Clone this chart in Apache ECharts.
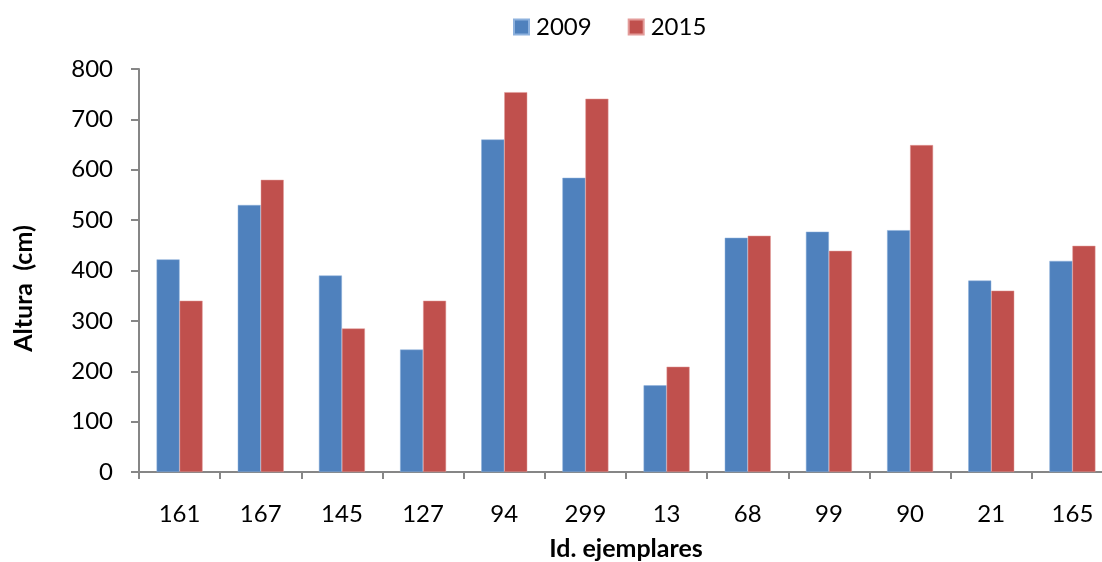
<!DOCTYPE html>
<html>
<head>
<meta charset="utf-8">
<script src="https://cdn.jsdelivr.net/npm/echarts@6/dist/echarts.min.js"></script>
<style>
html,body{margin:0;padding:0;background:#fff;}
#chart{width:1102px;height:562px;}
</style>
</head>
<body>
<div id="chart"></div>
<script>
var categories = ['161','167','145','127','94','299','13','68','99','90','21','165'];
var values2009 = [422, 530, 390, 243, 660, 584, 172, 465, 477, 480, 380, 419];
var values2015 = [340, 580, 285, 340, 754, 741, 209, 469, 439, 649, 360, 449];
var seriesNames = ['2009', '2015'];

var font = 'Lato, "Open Sans", sans-serif';
var chart = echarts.init(document.getElementById('chart'));
chart.setOption({
  animation: false,
  textStyle: { fontFamily: font },
  legend: {
    data: seriesNames,
    top: 10,
    left: 508,
    itemWidth: 15,
    itemHeight: 15,
    itemGap: 36,
    icon: 'rect',
    textStyle: { fontSize: 24, color: '#000', fontFamily: font, padding: [0, 0, 0, 2] }
  },
  grid: { left: 139, top: 69, width: 974, height: 403, containLabel: false, outerBoundsMode: 'none' },
  xAxis: {
    type: 'category',
    data: categories,
    name: 'Id. ejemplares',
    nameLocation: 'middle',
    nameGap: 64,
    nameTextStyle: { fontSize: 25, fontWeight: 'bold', color: '#000', fontFamily: font },
    axisLine: { lineStyle: { color: '#868686', width: 2 } },
    axisTick: { show: true, length: 7, lineStyle: { color: '#868686', width: 2 } },
    axisLabel: { fontSize: 24, color: '#000', margin: 30, fontFamily: font },
    splitLine: { show: false }
  },
  yAxis: {
    type: 'value',
    min: 0,
    max: 800,
    interval: 100,
    name: 'Altura  (cm)',
    nameLocation: 'middle',
    nameGap: 103,
    nameRotate: 90,
    nameTextStyle: { fontSize: 25, fontWeight: 'bold', color: '#000', fontFamily: font, padding: [0, 36, 0, 0] },
    axisLine: { show: true, lineStyle: { color: '#868686', width: 2 } },
    axisTick: { show: true, length: 8, lineStyle: { color: '#868686', width: 2 } },
    axisLabel: { fontSize: 24, color: '#000', margin: 26, fontFamily: font },
    splitLine: { show: false }
  },
  series: [
    {
      name: seriesNames[0],
      type: 'bar',
      data: values2009,
      barWidth: 23,
      barGap: '0%',
      itemStyle: { color: '#4F81BD', borderColor: '#8DB1DD', borderWidth: 0.5 }
    },
    {
      name: seriesNames[1],
      type: 'bar',
      data: values2015,
      barWidth: 23,
      barGap: '0%',
      itemStyle: { color: '#C0504D', borderColor: '#E39C9A', borderWidth: 0.5 }
    }
  ]
});
</script>
</body>
</html>
